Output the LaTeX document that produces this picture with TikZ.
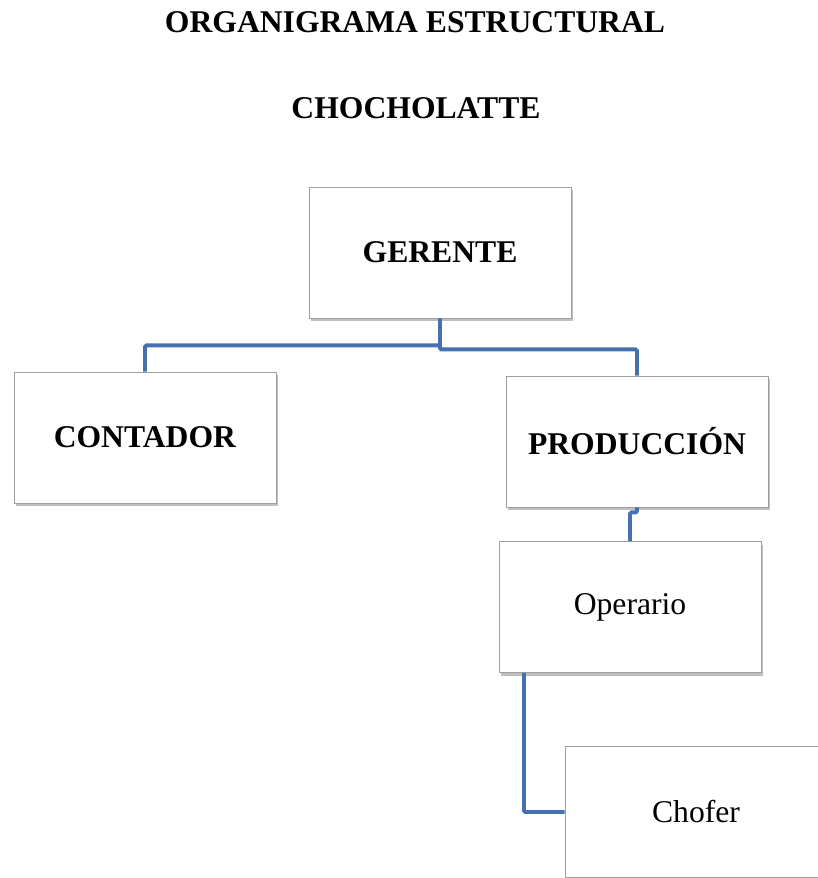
\documentclass[tikz,border=0pt]{standalone}
\usepackage{fontspec}
\setmainfont{Liberation Serif}
\usetikzlibrary{shadows}
\definecolor{linea}{RGB}{68,114,176}
\tikzset{
  caja/.style={draw=gray!75, line width=0.6pt, fill=white,
    minimum width=6.55cm, minimum height=3.275cm,
    drop shadow={shadow xshift=1.5pt, shadow yshift=-2.2pt, opacity=0.5},
    font=\fontsize{22.5}{27}\selectfont},
  titulo/.style={font=\fontsize{22.5}{27}\selectfont\bfseries},
  conector/.style={draw=linea, line width=2.8pt, rounded corners=1pt}
}
\begin{document}
\begin{tikzpicture}[x=0.025cm, y=-0.025cm]
\useasboundingbox (0,0) rectangle (817,878);

\node[titulo] (tit1) at (415,22) {ORGANIGRAMA ESTRUCTURAL};
\node[titulo] (tit2) at (416,108) {CHOCHOLATTE};

\node[caja] (ger) at (440,252.5) {\textbf{GERENTE}};
\node[caja] (cont) at (145,437.5) {\textbf{CONTADOR}};
\node[caja] (prod) at (637,441.5) {\textbf{PRODUCCIÓN}};
\node[caja] (oper) at (630,607) {Operario};
\node[caja] (cho) at (696,812) {Chofer};

\draw[conector] (ger.south) -- ++(0,27) -| (cont.north);
\draw[conector] (ger.south) -- ++(0,31) -| (prod.north);
\draw[conector] (prod.south) -- ++(0,5) -| (oper.north);
\draw[conector] ([xshift=-2.65cm]oper.south) |- (cho.west);
\end{tikzpicture}
\end{document}
